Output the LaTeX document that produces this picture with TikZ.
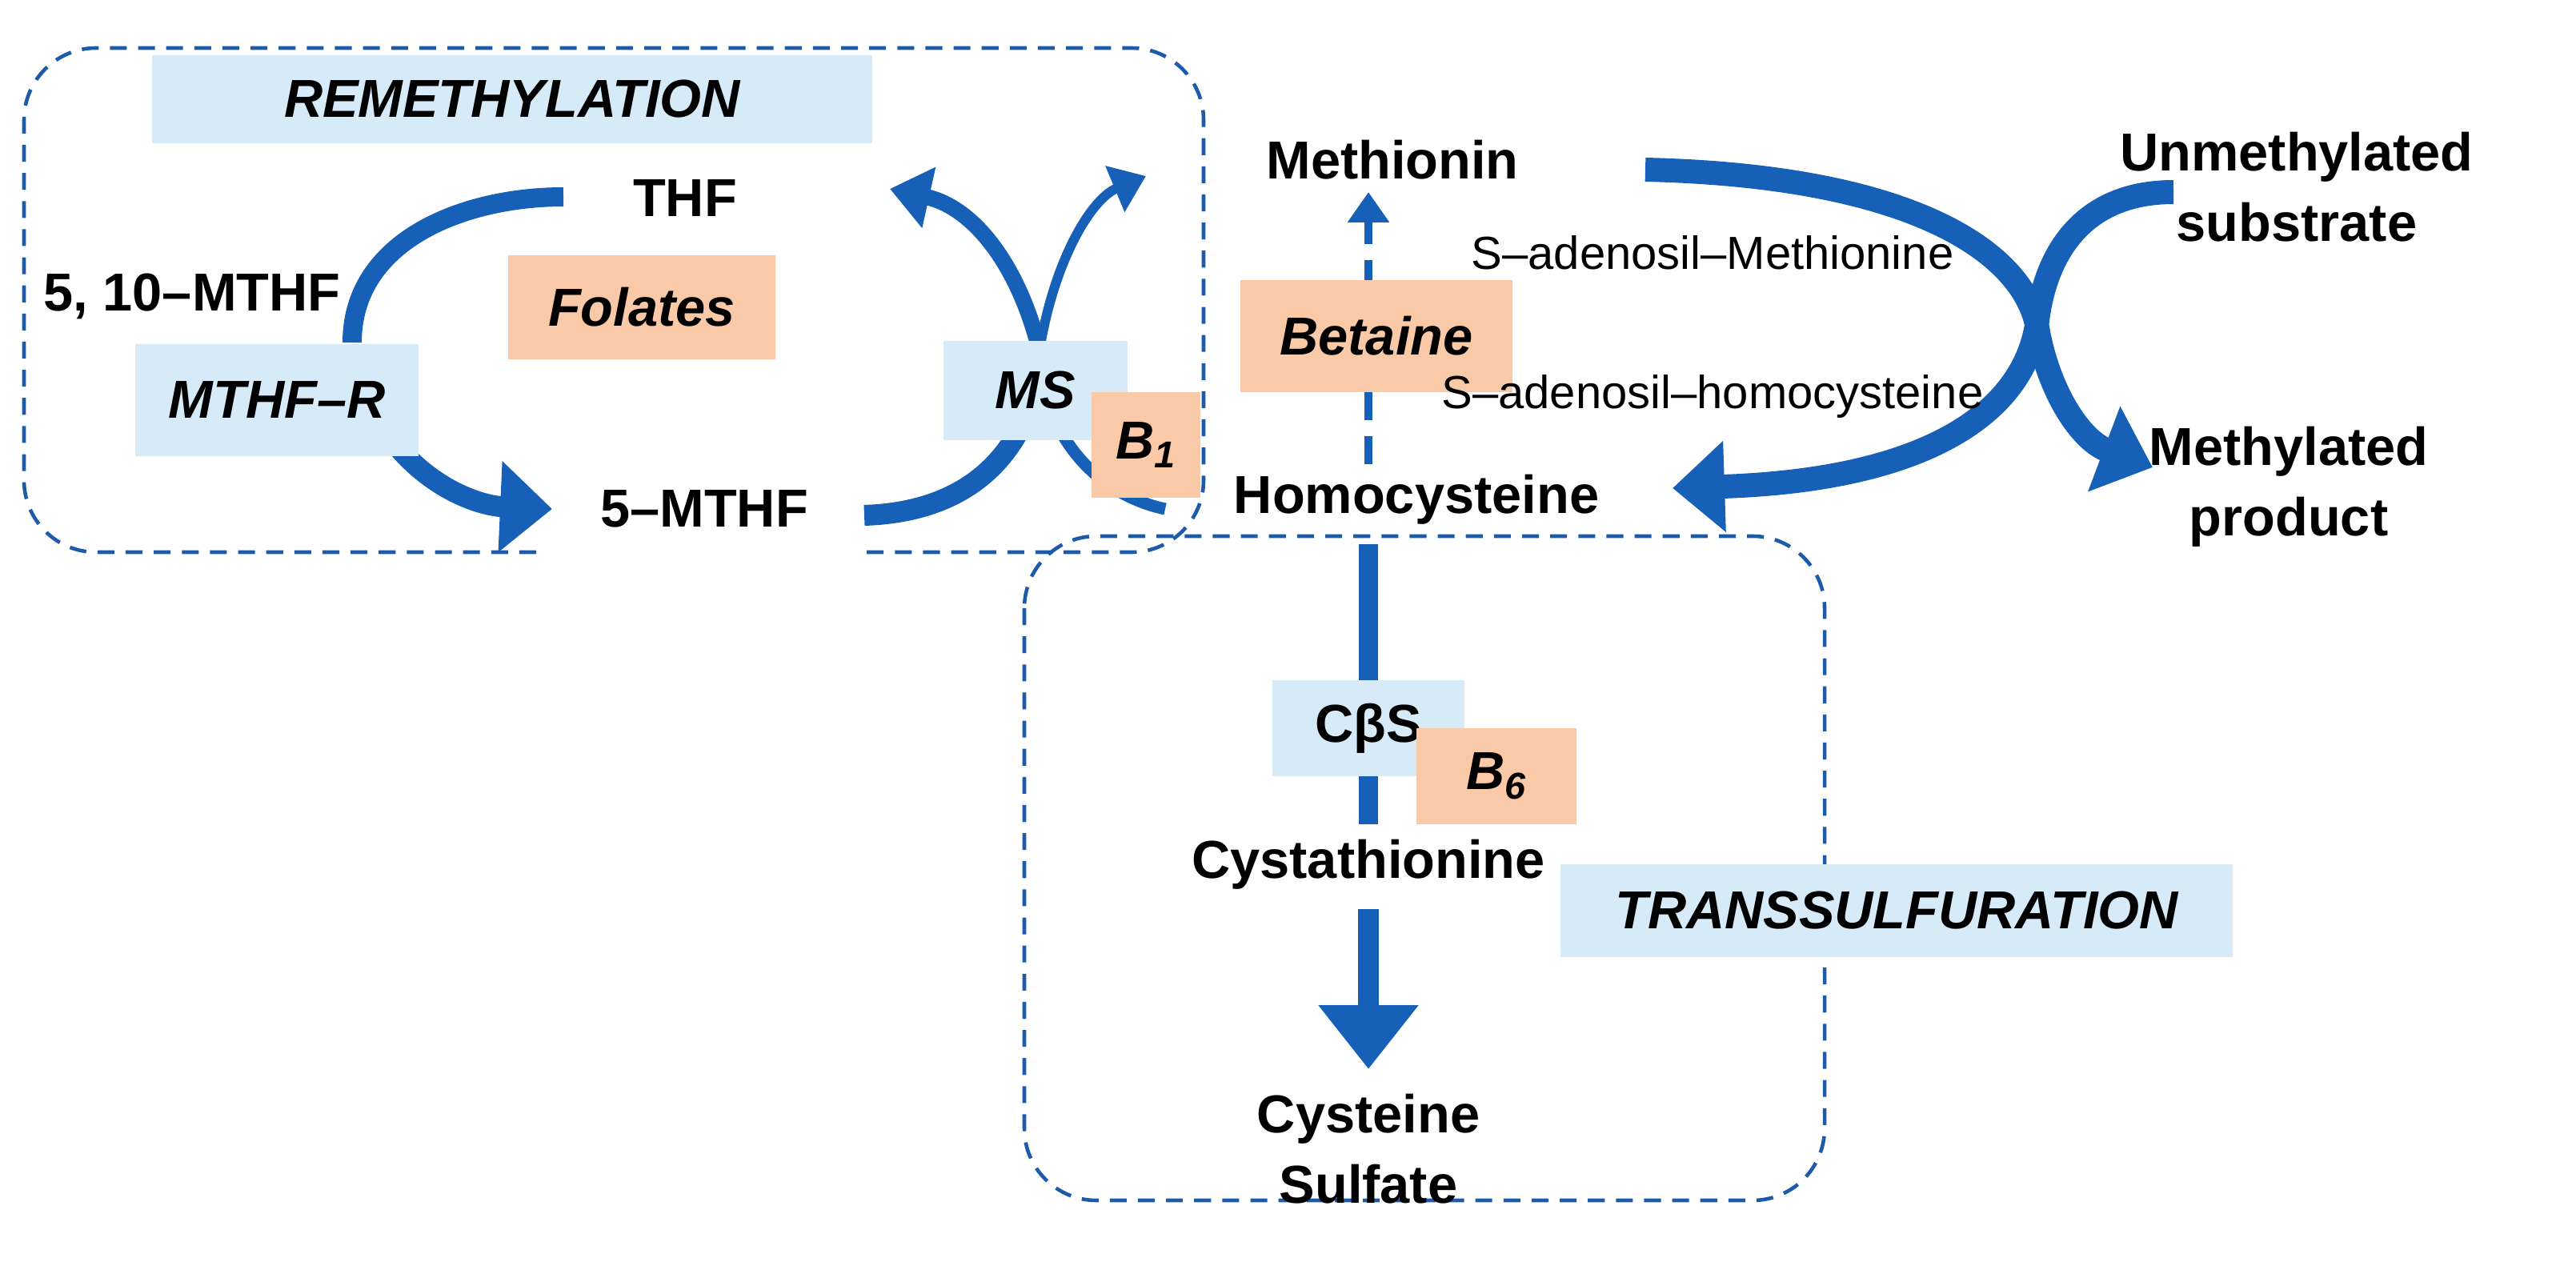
\documentclass[tikz,border=0pt]{standalone}
\usepackage{fontspec}
\setmainfont{Liberation Sans}
\usetikzlibrary{arrows.meta}
\definecolor{ab}{RGB}{22,96,184}
\definecolor{lb}{RGB}{214,234,248}
\definecolor{lo}{RGB}{250,202,168}
\definecolor{dbl}{RGB}{30,90,170}
\begin{document}
\begin{tikzpicture}[x=0.02cm,y=-0.02cm,
  lab/.style={font=\fontsize{19}{23}\selectfont\bfseries, text=black, align=center},
  small/.style={font=\fontsize{16.5}{19}\selectfont, text=black},
  bbox/.style={fill=lb, inner sep=0pt, font=\fontsize{19}{23}\selectfont\bfseries\itshape},
  obox/.style={fill=lo, inner sep=0pt, font=\fontsize{19}{23}\selectfont\bfseries\itshape},
  frame/.style={draw=dbl, dashed, line width=1.3pt, dash pattern=on 6pt off 4pt, rounded corners=0.9cm},
  fat/.style={draw=ab, line width=#1},
  big/.style={-{Triangle[width=1.1cm,length=0.65cm]}},
  mid/.style={-{Triangle[width=0.75cm,length=0.5cm]}}]
\useasboundingbox (0,0) rectangle (1609.5,788.5);
% frames
\draw[frame] (335,345) -- (15,345) -- (15,30) -- (752,30) -- (752,345) -- (535,345);
\draw[frame] (640,335) rectangle (1140,750);
% left arcs
\draw[fat=0.24cm] (220,214) .. controls (220,150) and (290,123) .. (352,123);
\draw[fat=0.26cm,big] (240,268) .. controls (265,305) and (300,316) .. (345,318);
% MS cross
\coordinate (bl) at (540,322); \coordinate (br) at (728,318);
\draw[fat=0.26cm] (bl) .. controls (600,320) and (635,290) .. (648,240);
\draw[fat=0.12cm,-{Triangle[width=0.6cm,length=0.42cm]}] (648,230) .. controls (655,170) and (680,125) .. (716,110);
\draw[fat=0.15cm] (br) .. controls (690,310) and (660,280) .. (652,240);
\draw[fat=0.2cm,mid] (652,230) .. controls (640,170) and (610,130) .. (556,118);
% boxes left
\node[bbox, minimum width=9cm, minimum height=1.1cm] (rem) at (320,62) {REMETHYLATION};
\node[obox, minimum width=3.34cm, minimum height=1.3cm] (fol) at (401,192) {Folates};
\node[bbox, minimum width=3.54cm, minimum height=1.4cm] (mthfr) at (173,250) {MTHF–R};
\node[bbox, minimum width=2.3cm, minimum height=1.24cm] (ms) at (647,244) {MS};
\node[obox, minimum width=1.36cm, minimum height=1.32cm] (b1) at (716,278) {B\textsubscript{1}};
\node[lab] (thf) at (428,124) {THF};
\node[lab] (m510) at (120,185) {5, 10–MTHF};
\node[lab] (m5) at (440,318) {5–MTHF};
% center
\node[lab] (met) at (870,100) {Methionin};
\node[lab] (hcy) at (885,312) {Homocysteine};
\draw[draw=ab, line width=0.1cm, dash pattern=on 0.35cm off 0.2cm, -{Triangle[width=0.5cm,length=0.38cm]}] (855,290) -- (855,120);
\node[obox, minimum width=3.4cm, minimum height=1.4cm] (bet) at (860,210) {Betaine};
% right cross
\draw[fat=0.3cm,big] (1028,106) .. controls (1200,110) and (1265,160) .. (1273,205) .. controls (1280,245) and (1300,275) .. (1345,292);
\draw[fat=0.3cm,big] (1358,120) .. controls (1300,120) and (1278,160) .. (1273,200) .. controls (1265,260) and (1200,300) .. (1045,305);
\node[small] (sam) at (1070,158) {S–adenosil–Methionine};
\node[small] (sah) at (1070,248) {S–adenosil–homocysteine};
\node[lab] (uns) at (1435,117) {Unmethylated\\[2pt]substrate};
\node[lab] (mp) at (1430,304) {Methylated\\[2pt]product};
% transsulfuration
\draw[fat=0.24cm] (855,340) -- (855,515);
\draw[fat=0.26cm,-{Triangle[width=1.2cm,length=0.8cm]}] (855,568) -- (855,668);
\node[bbox, minimum width=2.4cm, minimum height=1.2cm] (cbs) at (855,455) {\upshape CβS};
\node[obox, minimum width=2cm, minimum height=1.2cm] (b6) at (935,485) {B\textsubscript{6}};
\node[lab] (cys) at (855,540) {Cystathionine};
\node[lab] (cs) at (855,718) {Cysteine\\[2pt]Sulfate};
\node[bbox, minimum width=8.4cm, minimum height=1.16cm] (trans) at (1185,569) {TRANSSULFURATION};
\end{tikzpicture}
\end{document}
